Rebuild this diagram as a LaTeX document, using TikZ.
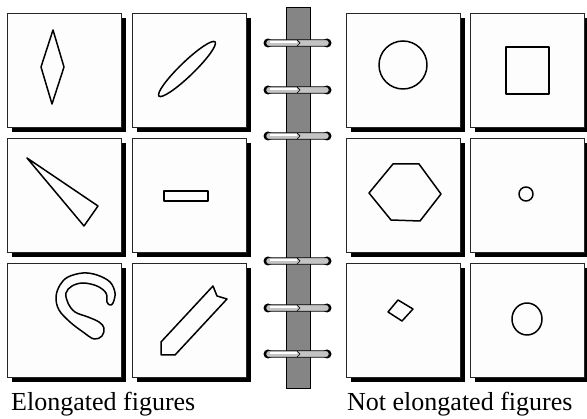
\documentclass[tikz,border=0pt]{standalone}
\usepackage{fontspec}
\setmainfont{Liberation Serif}
\definecolor{figgray}{RGB}{133,133,133}
\definecolor{figring}{RGB}{196,196,196}
\definecolor{figpaper}{RGB}{253,253,253}
\usetikzlibrary{shadows}
\tikzset{
  panel/.style={draw=black!85,line width=0.8pt,fill=figpaper,minimum size=114pt,inner sep=0pt,
    drop shadow={shadow xshift=5pt,shadow yshift=-5pt,fill=black,opacity=1}},
  figline/.style={line width=1.5pt,line join=round},
  caption/.style={font=\fontsize{26}{30}\selectfont,inner sep=0pt,anchor=base west}
}

\begin{document}
\begin{tikzpicture}[x=1pt,y=-1pt]
  \useasboundingbox (0,0) rectangle (587,419);
  % spine with rings
  \draw[fill=figgray,line width=0.8pt] (286,7) rectangle (310,388);
  \foreach \ry in {43,90,136,261,308,354} {
    \fill (268,\ry) circle (4.5pt);
    \fill (327,\ry) circle (4.5pt);
    \draw[fill=figring,line width=0.7pt,rounded corners=2.5pt] (266,\ry-3.2) rectangle (329,\ry+3.2);
    \draw[white,line width=1.4pt] (270,\ry-1) -- (297,\ry-1);
    \draw[line width=0.7pt] (297,\ry-3) -- (300,\ry) -- (297,\ry+3);
  }
  % elongated panels
  \node[panel] (el11) at (64,70) {};
  \node[panel] (el12) at (189,70) {};
  \node[panel] (el21) at (64,195) {};
  \node[panel] (el22) at (189,195) {};
  \node[panel] (el31) at (64,320) {};
  \node[panel] (el32) at (189,320) {};
  % not elongated panels
  \node[panel] (ne11) at (403,70) {};
  \node[panel] (ne12) at (527,70) {};
  \node[panel] (ne21) at (403,195) {};
  \node[panel] (ne22) at (527,195) {};
  \node[panel] (ne31) at (403,320) {};
  \node[panel] (ne32) at (527,320) {};
  % figures
  \draw[figline] (53,30) -- (64,67) -- (52,104) -- (41,67) -- cycle;
  \draw[figline,rotate around={44:(187,69)}] (187,69) ellipse [x radius=39pt,y radius=7pt];
  \draw[figline] (27,158) -- (98,206) -- (84,226) -- cycle;
  \draw[figline] (164,191) rectangle (208,201);
  \draw[figline] plot[smooth cycle,tension=0.6] coordinates {
    (113,303) (115,293) (110,282) (97,275) (83,273) (68,277) (60,285) (56,297)
    (59,310) (70,322) (83,332) (94,339) (102,336) (104,328) (99,322) (88,317)
    (75,312) (68,303) (66,293) (72,286) (83,283) (97,286) (106,293) (107,302)
    (110,305)};
  \draw[figline] (161,342) -- (213,286) -- (217,296) -- (227,299) -- (175,355) -- (161,355) -- cycle;
  \draw[figline] (403,65) circle (24pt);
  \draw[figline] (506,47) rectangle (549,94);
  \draw[figline] (369,193) -- (393,164) -- (419,164) -- (441,194) -- (420,221) -- (391,220) -- cycle;
  \draw[figline] (526,194) circle (7pt);
  \draw[figline] (398,300) -- (413,309) -- (402,321) -- (388,312) -- cycle;
  \draw[figline] (527,319) ellipse [x radius=15pt,y radius=16pt];
  % captions
  \node[caption] (elcap) at (11,411) {Elongated figures};
  \node[caption] (necap) at (347,411) {Not elongated figures};
\end{tikzpicture}
\end{document}
